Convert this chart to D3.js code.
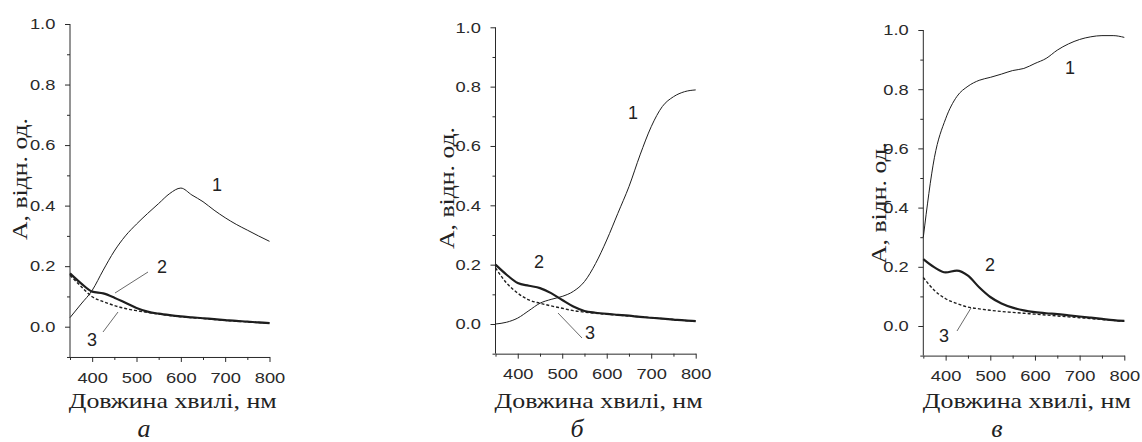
<!DOCTYPE html>
<html>
<head>
<meta charset="utf-8">
<script src="https://cdn.jsdelivr.net/npm/d3@7"></script>
<style>
  body { margin: 0; background: #fff; }
  svg { display: block; }
  .tick text { font-family: "Liberation Sans", Arial, sans-serif; font-size: 15px; fill: #2a2a2a; }
  .domain, .tick line { stroke: #2a2a2a; }
</style>
</head>
<body>
<div id="chart"></div>
<script>
// wavelengths (nm) shared by every curve
const wavelengths = [350, 375, 400, 425, 450, 475, 500, 525, 550, 575, 600, 625, 650, 675, 700, 725, 750, 775, 800];

// panel a
const a1 = [0.03, 0.075, 0.12, 0.187, 0.25, 0.30, 0.339, 0.374, 0.407, 0.44, 0.458, 0.435, 0.413, 0.385, 0.36, 0.338, 0.319, 0.30, 0.282];
const a2 = [0.176, 0.143, 0.116, 0.11, 0.096, 0.079, 0.062, 0.05, 0.043, 0.038, 0.034, 0.031, 0.028, 0.025, 0.022, 0.019, 0.017, 0.014, 0.012];
const a3 = [0.17, 0.133, 0.099, 0.083, 0.07, 0.06, 0.053, 0.047, 0.042, 0.037, 0.033, 0.03, 0.027, 0.024, 0.021, 0.018, 0.016, 0.014, 0.012];

// panel б
const b1 = [0.0, 0.006, 0.02, 0.045, 0.07, 0.083, 0.093, 0.11, 0.143, 0.204, 0.283, 0.373, 0.463, 0.57, 0.665, 0.733, 0.766, 0.783, 0.789];
const b2 = [0.2, 0.166, 0.138, 0.129, 0.121, 0.104, 0.081, 0.059, 0.044, 0.038, 0.034, 0.031, 0.028, 0.024, 0.021, 0.018, 0.015, 0.012, 0.01];
const b3 = [0.189, 0.138, 0.104, 0.081, 0.07, 0.061, 0.053, 0.045, 0.04, 0.036, 0.033, 0.03, 0.027, 0.024, 0.021, 0.018, 0.015, 0.012, 0.01];

// panel в
const c1 = [0.30, 0.57, 0.70, 0.775, 0.81, 0.83, 0.84, 0.851, 0.863, 0.87, 0.887, 0.904, 0.932, 0.953, 0.968, 0.977, 0.981, 0.981, 0.975];
const c2 = [0.226, 0.198, 0.181, 0.187, 0.17, 0.131, 0.098, 0.076, 0.062, 0.053, 0.047, 0.043, 0.04, 0.036, 0.032, 0.028, 0.024, 0.02, 0.017];
const c3 = [0.164, 0.12, 0.092, 0.076, 0.064, 0.058, 0.053, 0.049, 0.046, 0.043, 0.04, 0.037, 0.034, 0.031, 0.028, 0.025, 0.022, 0.019, 0.016];

const yTicks = [0.0, 0.2, 0.4, 0.6, 0.8, 1.0];
const yMinor = [-0.1, 0.1, 0.3, 0.5, 0.7, 0.9];
const xTicks = [400, 500, 600, 700, 800];
const xMinor = [350, 450, 550, 650, 750];
const xTitle = "Довжина хвилі, нм";
const yTitle = "А, відн. од.";

const panels = [
  { letter: "а", series: [a1, a2, a3], x0: 70, x1: 269.5, yTop: 24, yZero: 326.7, ylabX: 27, ylabY: 179, letterX: 144,
    labels: [{ t: "1", x: 217, y: 191 }, { t: "2", x: 162, y: 273 }, { t: "3", x: 92, y: 346 }],
    leaders: [[148, 272, 115, 293], [103, 332, 118, 312]] },
  { letter: "б", series: [b1, b2, b3], x0: 495.5, x1: 695.7, yTop: 27.3, yZero: 324, ylabX: 454, ylabY: 188, letterX: 577,
    labels: [{ t: "1", x: 633, y: 119 }, { t: "2", x: 539, y: 268 }, { t: "3", x: 590, y: 339 }],
    leaders: [[582, 338, 558, 313]] },
  { letter: "в", series: [c1, c2, c3], x0: 923.3, x1: 1124.3, yTop: 30, yZero: 326, ylabX: 886, ylabY: 203, letterX: 997,
    labels: [{ t: "1", x: 1070, y: 74 }, { t: "2", x: 990, y: 271 }, { t: "3", x: 944, y: 342 }],
    leaders: [[957, 331, 971, 308]] }
];

const lineStyles = [
  { w: 1, dash: null },
  { w: 2.2, dash: null },
  { w: 1.4, dash: "3,2" }
];

const svg = d3.select("#chart").append("svg")
  .attr("width", 1142)
  .attr("height", 442);

panels.forEach(p => {
  const x = d3.scaleLinear().domain([350, 800]).range([p.x0, p.x1]);
  const unit = p.yZero - p.yTop;
  const y = d3.scaleLinear().domain([0, 1]).range([p.yZero, p.yTop]);
  const yBottom = y(-0.1);

  const g = svg.append("g");

  // y axis
  const ya = g.append("g").attr("transform", `translate(${p.x0},0)`)
    .call(d3.axisLeft(y).tickValues(yTicks).tickFormat(d3.format(".1f")).tickSize(5).tickPadding(7).tickSizeOuter(0));
  ya.select(".domain").attr("d", `M0,${yBottom}V${y(1)}`);
  ya.selectAll(".tick text").attr("transform", "scale(1.22,1)");
  g.append("g").attr("transform", `translate(${p.x0},0)`)
    .call(d3.axisLeft(y).tickValues(yMinor).tickFormat("").tickSize(3).tickSizeOuter(0))
    .select(".domain").remove();

  // x axis
  const xa = g.append("g").attr("transform", `translate(0,${yBottom})`)
    .call(d3.axisBottom(x).tickValues(xTicks).tickSize(5).tickPadding(10).tickSizeOuter(0));
  xa.selectAll(".tick text").attr("transform", "scale(1.22,1)");
  g.append("g").attr("transform", `translate(0,${yBottom})`)
    .call(d3.axisBottom(x).tickValues(xMinor).tickFormat("").tickSize(3).tickSizeOuter(0))
    .select(".domain").remove();

  // curves
  const line = d3.line()
    .x((d, i) => x(wavelengths[i]))
    .y(d => y(d))
    .curve(d3.curveMonotoneX);

  p.series.forEach((s, k) => {
    g.append("path")
      .datum(s)
      .attr("d", line)
      .attr("fill", "none")
      .attr("stroke", "#1e1e1e")
      .attr("stroke-width", lineStyles[k].w)
      .attr("stroke-dasharray", lineStyles[k].dash);
  });

  // leaders
  p.leaders.forEach(l => {
    g.append("line")
      .attr("x1", l[0]).attr("y1", l[1]).attr("x2", l[2]).attr("y2", l[3])
      .attr("stroke", "#444").attr("stroke-width", 0.8);
  });

  // curve numbers
  p.labels.forEach(l => {
    g.append("text")
      .attr("x", l.x).attr("y", l.y)
      .attr("text-anchor", "middle")
      .style("font-family", "Liberation Sans, Arial, sans-serif")
      .style("font-size", "18px")
      .attr("fill", "#222")
      .text(l.t);
  });

  // axis titles
  g.append("text")
    .attr("x", (p.x0 + p.x1) / 2 + 3)
    .attr("y", 408)
    .attr("text-anchor", "middle")
    .attr("textLength", 208)
    .attr("lengthAdjust", "spacingAndGlyphs")
    .style("font-family", "Liberation Serif, Times New Roman, serif")
    .style("font-size", "22px")
    .attr("fill", "#222")
    .text(xTitle);

  g.append("text")
    .attr("transform", `translate(${p.ylabX},${p.ylabY}) rotate(-90)`)
    .attr("text-anchor", "middle")
    .attr("textLength", 122)
    .attr("lengthAdjust", "spacingAndGlyphs")
    .style("font-family", "Liberation Serif, Times New Roman, serif")
    .style("font-size", "21px")
    .attr("fill", "#222")
    .text(yTitle);

  g.append("text")
    .attr("x", p.letterX)
    .attr("y", 437)
    .attr("text-anchor", "middle")
    .style("font-family", "Liberation Serif, Times New Roman, serif")
    .style("font-style", "italic")
    .style("font-size", "26px")
    .attr("fill", "#222")
    .text(p.letter);
});
</script>
</body>
</html>
